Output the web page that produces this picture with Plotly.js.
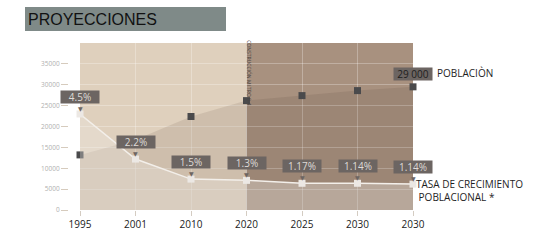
<!DOCTYPE html>
<html>
<head>
<meta charset="utf-8">
<script src="https://cdn.plot.ly/plotly-3.0.1.min.js"></script>
<style>html,body{margin:0;padding:0;background:#fff;}#chart{width:540px;height:248px;}</style>
</head>
<body>
<div id="chart"></div>
<script>
// ---- data ----
var years = ['1995', '2001', '2010', '2020', '2025', '2030', '2030'];
var poblacion = [13200, 16800, 22400, 26200, 27400, 28600, 29500];
var tasa = [23000, 12200, 7400, 7100, 6400, 6400, 6200];
var tasaLabels = ['4.5%', '2.2%', '1.5%', '1.3%', '1.17%', '1.14%', '1.14%'];
var poblacionLabel = '29 000';
var yTicks = [0, 5000, 10000, 15000, 20000, 25000, 30000, 35000];
var yTickText = ['0', '5000', '10000', '15000', '20000', '25000', '30000', '35000'];

var xIdx = years.map(function (_, i) { return i; });
var W = 540, H = 248;
var FONT = 'Open Sans, Noto Sans, sans-serif';
var boxColor = '#6c6562';

var traces = [
  {
    x: xIdx, y: poblacion, type: 'scatter', mode: 'lines+markers',
    line: {color: 'rgba(0,0,0,0)', width: 0},
    fill: 'tozeroy', fillcolor: 'rgba(60,40,25,0.10)',
    marker: {symbol: 'square', size: 7, color: '#4a4a4c'},
    cliponaxis: false, hoverinfo: 'skip', showlegend: false
  },
  {
    x: xIdx, y: tasa, type: 'scatter', mode: 'lines+markers',
    line: {color: '#f3efea', width: 1.5},
    fill: 'tozeroy', fillcolor: 'rgba(240,236,234,0.32)',
    marker: {symbol: 'square', size: 7, color: '#ece8e4'},
    cliponaxis: false, hoverinfo: 'skip', showlegend: false
  }
];

var annotations = [];
tasaLabels.forEach(function (t, i) {
  annotations.push({
    x: xIdx[i], y: tasa[i], xref: 'x', yref: 'y', text: t, showarrow: false,
    xanchor: 'center', yanchor: 'bottom', yshift: 10, width: 38, height: 12,
    bgcolor: boxColor, borderpad: 0,
    font: {family: FONT, size: 10, color: '#dedad6'}
  });
  annotations.push({
    x: xIdx[i], y: tasa[i], xref: 'x', yref: 'y', text: '\u25BC', showarrow: false,
    xanchor: 'center', yanchor: 'top', yshift: 11,
    font: {family: 'DejaVu Sans', size: 6, color: boxColor}
  });
});
var last = xIdx.length - 1;
annotations.push({
  x: xIdx[last], y: poblacion[last], xref: 'x', yref: 'y', text: poblacionLabel, showarrow: false,
  xanchor: 'center', yanchor: 'bottom', yshift: 6, width: 38, height: 12,
  bgcolor: boxColor, borderpad: 0,
  font: {family: FONT, size: 10, color: '#1e1e1e'}
});
annotations.push({
  x: xIdx[last], y: poblacion[last], xref: 'x', yref: 'y', text: 'POBLACIÒN', showarrow: false,
  xanchor: 'left', yanchor: 'bottom', xshift: 22, yshift: 5,
  font: {family: FONT, size: 10, color: '#1e1e1e'}
});
annotations.push({
  x: xIdx[last], y: tasa[last], xref: 'x', yref: 'y',
  text: 'TASA DE CRECIMIENTO<br>\u00a0POBLACIONAL *', showarrow: false,
  xanchor: 'left', yanchor: 'middle', xshift: 1, yshift: -6, align: 'left',
  font: {family: FONT, size: 10, color: '#1e1e1e'}
});
annotations.push({
  x: 3, y: 33000, xref: 'x', yref: 'y', text: 'CONSTRUCCIÓN MI TRO 0-4', showarrow: false,
  textangle: 90, xanchor: 'left', xshift: -2,
  font: {family: FONT, size: 5, color: '#4a4440'}
});
annotations.push({
  x: 26 / W, y: 1 - 19 / H, xref: 'paper', yref: 'paper', text: 'PROYECCIONES', showarrow: false,
  xanchor: 'left', yanchor: 'middle',
  font: {family: 'Liberation Sans, Arial, sans-serif', size: 16, color: '#111111'}
});

var layout = {
  width: W, height: H,
  margin: {l: 0, r: 0, t: 0, b: 0},
  paper_bgcolor: '#ffffff', plot_bgcolor: 'rgba(0,0,0,0)',
  showlegend: false,
  xaxis: {
    domain: [80 / W, 413 / W], range: [0, 6],
    tickmode: 'array', tickvals: xIdx, ticktext: years,
    showgrid: true, gridcolor: 'rgba(255,255,255,0.28)', gridwidth: 1,
    zeroline: false, showline: false,
    ticks: 'outside', ticklen: 5, tickcolor: '#d4ccc2', tickwidth: 1,
    tickfont: {family: FONT, size: 10, color: '#222222'}
  },
  yaxis: {
    domain: [1 - 210 / H, 1 - 43 / H], range: [0, 40000],
    anchor: 'free', position: 68 / W,
    tickmode: 'array', tickvals: yTicks, ticktext: yTickText,
    showgrid: true, gridcolor: 'rgba(255,255,255,0.28)', gridwidth: 1,
    zeroline: false, showline: false,
    ticks: 'outside', ticklen: 7, tickcolor: '#d6cbbd', tickwidth: 1,
    tickfont: {family: FONT, size: 6.5, color: '#b0b0b0'}
  },
  shapes: [
    {type: 'rect', xref: 'x', yref: 'y', x0: 0, x1: 3, y0: 0, y1: 40000,
     fillcolor: '#dfd0bd', line: {width: 0}, layer: 'below'},
    {type: 'rect', xref: 'x', yref: 'y', x0: 3, x1: 6, y0: 0, y1: 40000,
     fillcolor: '#a8917f', line: {width: 0}, layer: 'below'},
    {type: 'rect', xref: 'paper', yref: 'paper', x0: 25 / W, x1: 226 / W,
     y0: 1 - 31 / H, y1: 1 - 7 / H, fillcolor: '#7f8a88', line: {width: 0}, layer: 'below'}
  ],
  annotations: annotations
};

Plotly.newPlot('chart', traces, layout, {staticPlot: true, displayModeBar: false});
</script>
</body>
</html>
